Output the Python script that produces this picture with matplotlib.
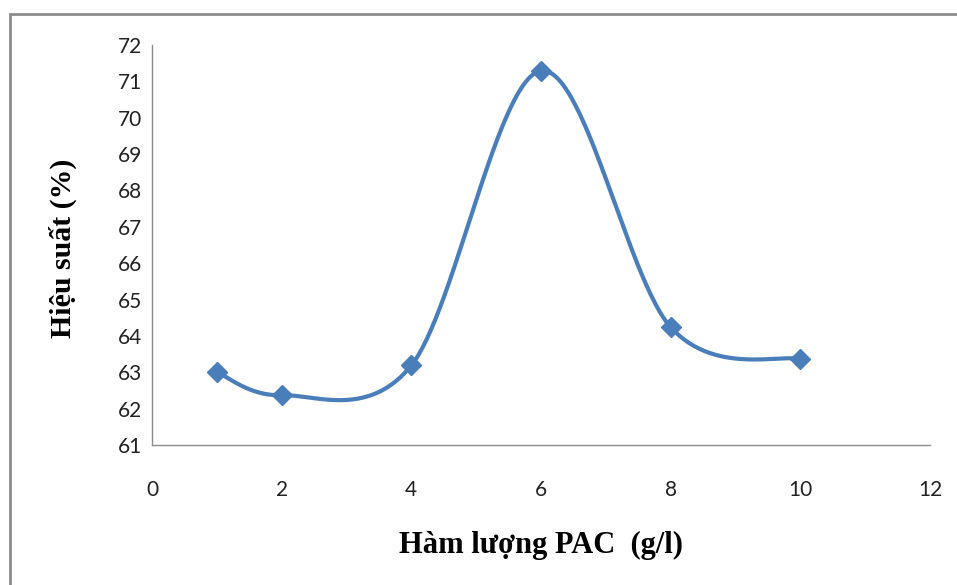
import numpy as np
import matplotlib.pyplot as plt
from matplotlib.patches import Rectangle

# PAC dose (g/l) vs removal efficiency (%)
pac = [1, 2, 4, 6, 8, 10]
hieu_suat = [63.0, 62.37, 63.19, 71.29, 64.24, 63.36]
xticks = [0, 2, 4, 6, 8, 10, 12]
yticks = list(range(61, 73))

line_color = '#4A7EBB'


def smooth_curve(xs, ys, n=60):
    # cubic bezier through the points, control points at 1/6 of neighbour span
    p = np.column_stack([xs, ys]).astype(float)
    pts = np.vstack([p[0], p, p[-1]])
    out = []
    for i in range(1, len(pts) - 2):
        p0, p1, p2, p3 = pts[i - 1], pts[i], pts[i + 1], pts[i + 2]
        c1 = p1 + (p2 - p0) / 6.0
        c2 = p2 - (p3 - p1) / 6.0
        t = np.linspace(0, 1, n)[:, None]
        seg = ((1 - t) ** 3) * p1 + 3 * ((1 - t) ** 2) * t * c1 \
            + 3 * (1 - t) * t ** 2 * c2 + t ** 3 * p2
        out.append(seg if i == 1 else seg[1:])
    seg = np.vstack(out)
    return seg[:, 0], seg[:, 1]


fig = plt.figure(figsize=(9.57, 5.85), dpi=100)
ax = fig.add_axes([152 / 957, 1 - 445 / 585, (930 - 152) / 957, (445 - 45) / 585])

sx, sy = smooth_curve(pac, hieu_suat)
ax.plot(sx, sy, color=line_color, lw=3.0, solid_capstyle='round')
ax.plot(pac, hieu_suat, linestyle='none', marker='D', markersize=10,
        color=line_color)

ax.set_xlim(0, 12)
ax.set_ylim(61, 72)
ax.set_xticks(xticks)
ax.set_yticks(yticks)
ax.tick_params(length=0, labelsize=15, colors='#222222', pad=7)
for lab in ax.get_xticklabels() + ax.get_yticklabels():
    lab.set_fontfamily('Lato')
ax.tick_params(axis='x', pad=25)

for side in ['top', 'right']:
    ax.spines[side].set_visible(False)
for side in ['left', 'bottom']:
    ax.spines[side].set_color('#8c8c8c')
    ax.spines[side].set_linewidth(1.0)

fig.text(541 / 957, 1 - 545 / 585, 'Hàm lượng PAC  (g/l)', ha='center', va='center',
         fontsize=22, fontweight='bold', family='Liberation Serif')
fig.text(63 / 957, 1 - 248 / 585, 'Hiệu suất (%)', ha='center', va='center',
         rotation=90, fontsize=21.5, fontweight='bold', family='Liberation Serif')

# outer frame of the chart area
fig.patches.append(Rectangle((10 / 957, -0.05), 1.0, 1 - 14 / 585 + 0.05,
                             transform=fig.transFigure, fill=False,
                             edgecolor='#8c8c8c', linewidth=2))

fig.savefig('out.png', dpi=100)
